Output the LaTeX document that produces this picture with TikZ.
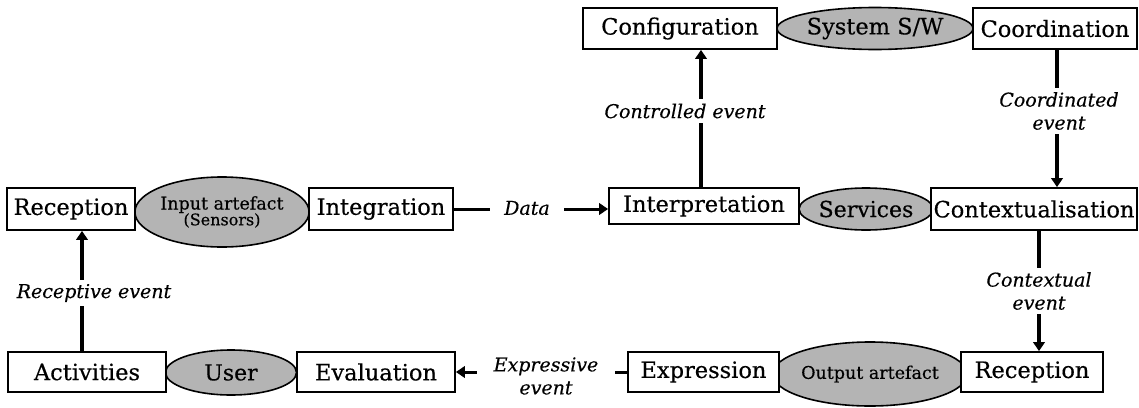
\documentclass[tikz,border=0pt]{standalone}
\usepackage{fontspec}
\setmainfont[FakeBold=0.4]{DejaVu Serif}
\usetikzlibrary{shapes.geometric,arrows.meta}
\definecolor{ellgray}{RGB}{180,180,180}
\newcommand{\bfnt}{\fontsize{22.5}{25}\selectfont}
\newcommand{\lfnt}{\fontsize{19}{23}\selectfont\itshape}
\tikzset{
  box/.style={draw, line width=1.8pt, fill=white, inner sep=0pt, font=\bfnt},
  ell/.style={ellipse, draw, line width=1.6pt, fill=ellgray, inner sep=0pt},
  conn/.style={line width=3.6pt},
  arr/.style={conn, -{Triangle[length=9pt,width=11.5pt]}},
  lab/.style={font=\lfnt, fill=white, inner sep=0pt, align=center},
}
\begin{document}
\begin{tikzpicture}[x=1pt,y=-1pt]
\useasboundingbox (0,0) rectangle (1139,407);
% ellipses
\node[ell, minimum width=196pt, minimum height=42pt, font=\bfnt] (sysw) at (875,28.5) {System S/W};
\node[ell, minimum width=174pt, minimum height=70pt, align=center] (inart) at (222,212) {{\fontsize{17.5}{19}\selectfont Input artefact}\\[-1pt]{\fontsize{16}{18}\selectfont (Sensors)}};
\node[ell, minimum width=132pt, minimum height=42pt, font=\fontsize{22}{24}\selectfont] (serv) at (866,209) {Services};
\node[ell, minimum width=131pt, minimum height=45pt, font=\fontsize{22}{24}\selectfont] (user) at (231,372.5) {User};
\node[ell, minimum width=183pt, minimum height=64pt, font=\fontsize{17.5}{19}\selectfont] (outart) at (870,374) {Output artefact};
% boxes
\node[box, minimum width=194pt, minimum height=41pt] (conf) at (680,28.5) {Configuration};
\node[box, minimum width=164pt, minimum height=41pt] (coord) at (1055,28.5) {Coordination};
\node[box, minimum width=128pt, minimum height=42pt] (recl) at (71,209) {Reception};
\node[box, minimum width=144pt, minimum height=42pt] (integ) at (381,209) {Integration};
\node[box, minimum width=190pt, minimum height=36pt] (interp) at (704,206) {Interpretation};
\node[box, minimum width=206pt, minimum height=42pt] (ctx) at (1034,209) {Contextualisation};
\node[box, minimum width=158pt, minimum height=40pt] (act) at (87,372) {Activities};
\node[box, minimum width=158pt, minimum height=40pt] (eval) at (376,372) {Evaluation};
\node[box, minimum width=151pt, minimum height=40pt] (expr) at (703.5,372) {Expression};
\node[box, minimum width=142pt, minimum height=40pt] (recr) at (1032,372) {Reception};
% connector columns
\coordinate (xrec) at (82,0);
\coordinate (xctl) at (701,0);
\coordinate (xcoo) at (1057,0);
\coordinate (xctx) at (1039,0);
% connectors
\draw[arr] (xrec |- act.north) -- (xrec |- recl.south);
\draw[arr] (xctl |- interp.north) -- (xctl |- conf.south);
\draw[arr] (xcoo |- coord.south) -- (xcoo |- ctx.north);
\draw[arr] (xctx |- ctx.south) -- (xctx |- recr.north);
\draw[arr, line width=3pt] (integ.east) -- (interp.west |- integ.east);
\draw[arr, line width=3pt] (expr.west) -- (eval.east |- expr.west);
% labels
\node[lab, inner xsep=3pt, inner ysep=4pt] (lrec) at (94,293) {Receptive event};
\node[lab, inner xsep=3pt, inner ysep=5pt] (lctl) at (685,111) {Controlled event};
\node[lab, inner xsep=3pt, inner ysep=4pt] (lcoo) at (1059,111) {Coordinated\\event};
\node[lab, inner xsep=3pt, inner ysep=4pt] (lctx) at (1039,291) {Contextual\\event};
\node[lab, inner xsep=14pt, inner ysep=4pt] (ldat) at (527,208) {Data};
\node[lab, inner xsep=17pt, inner ysep=2pt] (lexp) at (546,376) {Expressive\\event};
\end{tikzpicture}
\end{document}
